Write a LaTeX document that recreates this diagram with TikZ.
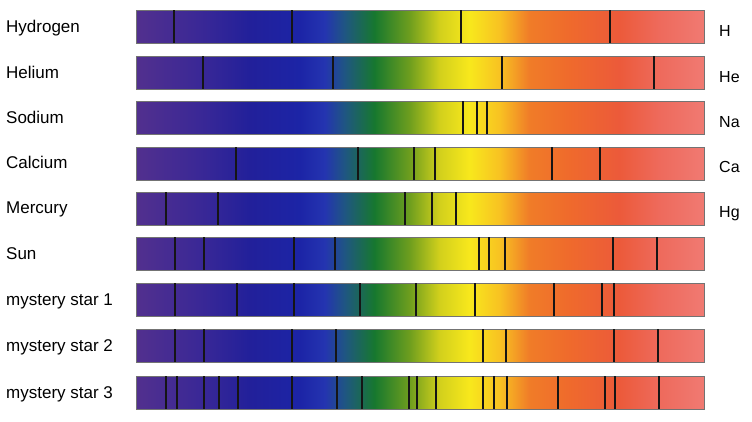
\documentclass[tikz,border=0pt]{standalone}
\usepackage{fontspec}
\setmainfont{Liberation Sans}
\definecolor{s0}{HTML}{52308E}
\definecolor{s1}{HTML}{3A2896}
\definecolor{s2}{HTML}{22209A}
\definecolor{s3}{HTML}{1C24A6}
\definecolor{s4}{HTML}{2434B0}
\definecolor{s5}{HTML}{1F5682}
\definecolor{s6}{HTML}{17782E}
\definecolor{s7}{HTML}{6E9E1E}
\definecolor{s8}{HTML}{D2D01C}
\definecolor{s9}{HTML}{F8E81C}
\definecolor{s10}{HTML}{F8C222}
\definecolor{s11}{HTML}{F07C28}
\definecolor{s12}{HTML}{EF6A2C}
\definecolor{s13}{HTML}{EC5A3A}
\definecolor{s14}{HTML}{EE6A5C}
\definecolor{s15}{HTML}{F07A72}
\definecolor{lineblack}{HTML}{151515}
\pgfdeclarehorizontalshading{spectrum}{100bp}{color(0bp)=(s0); color(25bp)=(s0); color(30.62bp)=(s1); color(35.02bp)=(s2); color(39.41bp)=(s3); color(41.61bp)=(s4); color(43.37bp)=(s5); color(46bp)=(s6); color(49.08bp)=(s7); color(51.71bp)=(s8); color(54.35bp)=(s9); color(56.99bp)=(s10); color(59.62bp)=(s11); color(63.14bp)=(s12); color(67.53bp)=(s13); color(71.05bp)=(s14); color(75bp)=(s15); color(100bp)=(s15)}
\tikzset{
  bar/.style={shading=spectrum, draw=black!55, line width=0.6pt},
  specline/.style={draw=lineblack, line width=2pt},
  lbl/.style={anchor=base west, inner sep=0pt, font=\fontsize{17}{20}\selectfont},
  sym/.style={anchor=base west, inner sep=0pt, font=\fontsize{16}{19}\selectfont},
}
\begin{document}
\begin{tikzpicture}[x=1pt,y=-1pt]
\useasboundingbox (0,0) rectangle (752,421);
\fill[white] (0,0) rectangle (752,421);
\foreach \top/\lines [count=\i] in {
  10/{174,292,461,610},
  56/{203,333,502,654},
  101/{463,477,487},
  147/{236,358,414,435,552,600},
  192/{166,218,405,432,456},
  237/{175,204,294,335,479,489,505,613,657},
  283/{175,237,294,360,416,475,554,602,614},
  329/{175,204,292,336,483,506,614,658},
  376/{166,177,204,219,238,292,337,362,409,417,436,483,494,507,558,605,615,659}}{
  \path[bar] (136,\top) rectangle (704,\top+33);
  \foreach \x in \lines {
    \draw[specline] (\x,\top) -- (\x,\top+33);
  }
}
\node[lbl] (hyd) at (6,32) {Hydrogen};
\node[lbl] (hel) at (6,78) {Helium};
\node[lbl] (sod) at (6,123) {Sodium};
\node[lbl] (cal) at (6,168) {Calcium};
\node[lbl] (mer) at (6,213) {Mercury};
\node[lbl] (sun) at (6,259) {Sun};
\node[lbl] (ms1) at (6,305) {mystery star 1};
\node[lbl] (ms2) at (6,351) {mystery star 2};
\node[lbl] (ms3) at (6,398) {mystery star 3};
\node[sym] (sH) at (719,36) {H};
\node[sym] (sHe) at (719,82) {He};
\node[sym] (sNa) at (719,127) {Na};
\node[sym] (sCa) at (719,172) {Ca};
\node[sym] (sHg) at (719,217) {Hg};
\end{tikzpicture}
\end{document}
